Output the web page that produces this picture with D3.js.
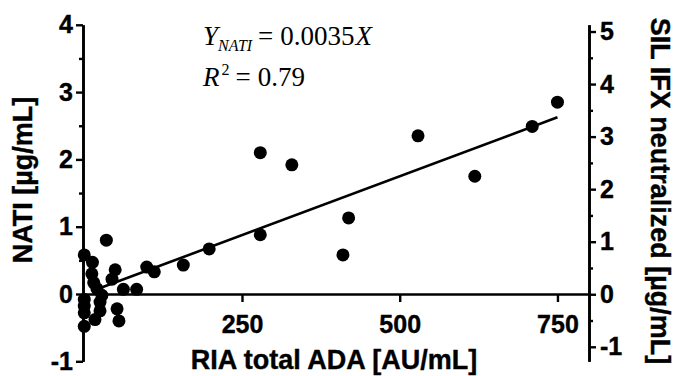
<!DOCTYPE html>
<html><head><meta charset="utf-8">
<script src="https://cdn.jsdelivr.net/npm/d3@7"></script>
<style>body{margin:0;background:#fff}svg{display:block}</style>
</head><body><svg id="c" width="676" height="376"></svg>
<script>
// RIA total ADA [AU/mL] (x) vs NATI [µg/mL] (y)
const adaX  = [0, 13, 12, 35, 49, 44, 15, 20, 28, 25, 62, 83, 99, 111, 0, 0, 0, 0, 17, 25, 52, 55, 157, 198, 279, 329, 529, 619, 710, 419, 279, 410, 750];
const natiY = [0.58, 0.47, 0.30, 0.80, 0.36, 0.22, 0.17, 0.08, -0.02, -0.12, 0.07, 0.07, 0.40, 0.33, -0.08, -0.18, -0.28, -0.48, -0.38, -0.25, -0.22, -0.40, 0.43, 0.67, 2.10, 1.92, 2.35, 1.75, 2.49, 1.13, 0.88, 0.58, 2.85];
const xTicks = [250, 500, 750];
const leftTicks = [-1, 0, 1, 2, 3, 4];
const leftMinor = [-0.5, 0.5, 1.5, 2.5, 3.5];
const rightTicks = [-1, 0, 1, 2, 3, 4, 5];
const rightMinor = [-0.5, 0.5, 1.5, 2.5, 3.5, 4.5];
const fitSlope = 0.0035;
const fitX = [20, 750];
const xTitle = "RIA total ADA [AU/mL]";
const yTitle = "NATI [µg/mL]";
const y2Title = "SIL IFX neutralized [µg/mL]";

const svg = d3.select('#c');
const x = d3.scaleLinear().domain([-2, 800]).range([83, 589]);
const y = d3.scaleLinear().domain([-1, 4]).range([361.3, 24.8]);
const yR = d3.scaleLinear().domain([-1.276, 5.128]).range([361.3, 24.8]);

const font = "'Liberation Sans', Arial, sans-serif";
const fmt = d => String(d);
function style(g){
  g.selectAll('path.domain').attr('stroke','#000').attr('stroke-width',2.6);
  g.selectAll('.tick line').attr('stroke','#000').attr('stroke-width',2.4);
  g.selectAll('.tick text').attr('fill','#000').attr('font-size',25).attr('font-weight','bold')
    .attr('font-family',font).attr('stroke','#000').attr('stroke-width',0.4);
}

// left axis
const gl = svg.append('g').attr('transform',`translate(${x(-2)},0)`);
gl.call(d3.axisLeft(y).tickValues(leftTicks).tickSize(7).tickSizeOuter(0).tickPadding(3).tickFormat(fmt));
style(gl);
const glm = svg.append('g').attr('transform',`translate(${x(-2)},0)`);
glm.call(d3.axisLeft(y).tickValues(leftMinor).tickSize(4).tickSizeOuter(0).tickFormat(''));
style(glm);

// right axis
const gr = svg.append('g').attr('transform',`translate(${x(800)},0)`);
gr.call(d3.axisRight(yR).tickValues(rightTicks).tickSize(7).tickSizeOuter(0).tickPadding(4).tickFormat(fmt));
style(gr);
const grm = svg.append('g').attr('transform',`translate(${x(800)},0)`);
grm.call(d3.axisRight(yR).tickValues(rightMinor).tickSize(4).tickSizeOuter(0).tickFormat(''));
style(grm);

// bottom axis at y=0
const gb = svg.append('g').attr('transform',`translate(0,${y(0)})`);
gb.call(d3.axisBottom(x).tickValues(xTicks).tickSize(8).tickSizeOuter(0).tickPadding(13).tickFormat(fmt));
style(gb);

// fit line
svg.append('line')
  .attr('x1', x(fitX[0])).attr('y1', y(fitSlope*fitX[0]))
  .attr('x2', x(fitX[1])).attr('y2', y(fitSlope*fitX[1]))
  .attr('stroke','#000').attr('stroke-width',2.6);

// points
svg.append('g').selectAll('circle').data(adaX).join('circle')
  .attr('cx', d => x(d)).attr('cy', (d,i) => y(natiY[i])).attr('r', 6.5).attr('fill','#000');

// titles
function title(t){ return t.attr('font-family',font).attr('font-weight','bold').attr('font-size',27)
  .attr('stroke','#000').attr('stroke-width',0.4).attr('text-anchor','middle'); }
title(svg.append('text').text(xTitle).attr('x',334).attr('y',369));
title(svg.append('text').text(yTitle).attr('transform','translate(32,180) rotate(-90)'));
title(svg.append('text').text(y2Title).attr('transform','translate(651,191) rotate(90)'));

// equation
const serif = "'Liberation Serif', 'Times New Roman', serif";
const eq1 = svg.append('text').attr('x',203).attr('y',45).attr('font-family',serif).attr('font-size',27);
eq1.append('tspan').attr('font-style','italic').text('Y');
eq1.append('tspan').attr('font-style','italic').attr('font-size',16).attr('dy',6).text('NATI');
eq1.append('tspan').attr('dy',-6).attr('dx',6).text('=');
eq1.append('tspan').attr('dx',7).text('0.0035');
eq1.append('tspan').attr('font-style','italic').attr('dx',1).text('X');
const eq2 = svg.append('text').attr('x',203).attr('y',86).attr('font-family',serif).attr('font-size',27);
eq2.append('tspan').attr('font-style','italic').text('R');
eq2.append('tspan').attr('font-size',16).attr('dy',-11).attr('dx',2).text('2');
eq2.append('tspan').attr('dy',11).attr('dx',6).text('=');
eq2.append('tspan').attr('dx',7).text('0.79');
</script></body></html>
